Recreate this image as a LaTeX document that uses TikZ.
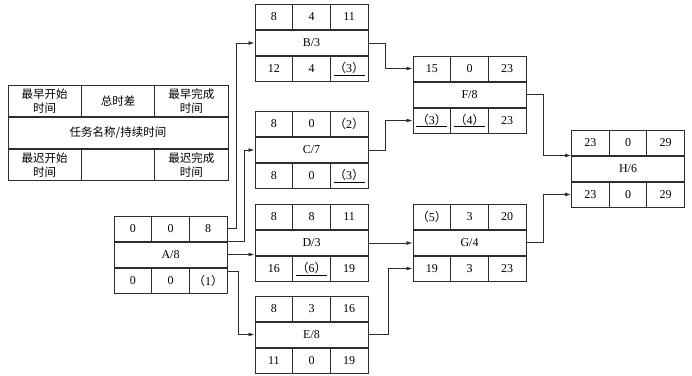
\documentclass[tikz,border=0pt]{standalone}
\usepackage{fontspec}
\setmainfont{Liberation Serif}
\newfontfamily\cjk{Noto Sans CJK SC}
\usetikzlibrary{arrows.meta}
\definecolor{LineGray}{RGB}{45,45,45}
\newcommand{\pn}[1]{{\cjk （}#1{\cjk ）}}
\newcommand{\crit}[1]{\underline{\makebox[31pt]{#1}}}
\newcommand{\taskbox}[9]{%
  \node[midcell] (#1) at (#2) {#3};
  \node[cell, anchor=south west] (#1-es) at (#1.north west) {#4};
  \node[cell, anchor=south] (#1-tf) at (#1.north) {#5};
  \node[cell, anchor=south east] (#1-ef) at (#1.north east) {#6};
  \node[cell, anchor=north west] (#1-ls) at (#1.south west) {#7};
  \node[cell, anchor=north] (#1-ff) at (#1.south) {#8};
  \node[cell, anchor=north east] (#1-lf) at (#1.south east) {#9};
}
\tikzset{
  cell/.style={draw=LineGray, line width=1pt, minimum width=37.67pt, minimum height=25pt, inner sep=0pt, font=\fontsize{12}{14}\selectfont},
  midcell/.style={cell, minimum width=113pt},
  legcell/.style={draw=LineGray, line width=1pt, minimum width=73.3pt, minimum height=31pt, inner sep=0pt, align=center, font=\cjk\fontsize{11.5}{14}\selectfont},
  legmid/.style={legcell, minimum width=220pt},
  link/.style={draw=LineGray, line width=0.8pt, -{Latex[length=6pt,width=4pt]}}
}

\begin{document}
\begin{tikzpicture}[x=1pt, y=-1pt]
    \useasboundingbox[fill=white] (0,0) rectangle (692,375);

    % Legend
    \node[legmid] (key) at (118,133) {任务名称/持续时间};
    \node[legcell, anchor=south west] (key-es) at (key.north west) {最早开始\\时间};
    \node[legcell, anchor=south] (key-tf) at (key.north) {总时差};
    \node[legcell, anchor=south east] (key-ef) at (key.north east) {最早完成\\时间};
    \node[legcell, anchor=north west] (key-ls) at (key.south west) {最迟开始\\时间};
    \node[legcell, anchor=north] (key-ff) at (key.south) {};
    \node[legcell, anchor=north east] (key-lf) at (key.south east) {最迟完成\\时间};

    % Tasks
    \taskbox{A}{170.5,254.5}{A/8}{0}{0}{8}{0}{0}{\pn{1}}
    \taskbox{B}{311.5,43}{B/3}{8}{4}{11}{12}{4}{\crit{\pn{3}}}
    \taskbox{C}{311.5,150}{C/7}{8}{0}{\pn{2}}{8}{0}{\crit{\pn{3}}}
    \taskbox{D}{311.5,243}{D/3}{8}{8}{11}{16}{\crit{\pn{6}}}{19}
    \taskbox{E}{311.5,334.5}{E/8}{8}{3}{16}{11}{0}{19}
    \taskbox{F}{469.5,94.5}{F/8}{15}{0}{23}{\crit{\pn{3}}}{\crit{\pn{4}}}{23}
    \taskbox{G}{469.5,242.5}{G/4}{\pn{5}}{3}{20}{19}{3}{23}
    \taskbox{H}{628,168.5}{H/6}{23}{0}{29}{23}{0}{29}

    % Links
    \draw[link] (A-ef.east) -- ++(9,0) |- (B.west);
    \draw[link] (A.north east) -- ++(17,0) |- (C.west);
    \draw[link] (A.east) -- (A.east -| D.west);
    \draw[link] ([yshift=-4pt]A.south east) -- ++(11,0) |- (E.west);
    \draw[link] (B.east) -- ++(17,0) |- (F-es.west);
    \draw[link] (C.east) -- ++(17,0) |- (F-ls.west);
    \draw[link] (D.east) -- (D.east -| G.west);
    \draw[link] (E.east) -- ++(20,0) |- (G-ls.west);
    \draw[link] (F.east) -- ++(17,0) |- (H.north west);
    \draw[link] (G.east) -- ++(17,0) |- (H-ls.west);
\end{tikzpicture}
\end{document}
